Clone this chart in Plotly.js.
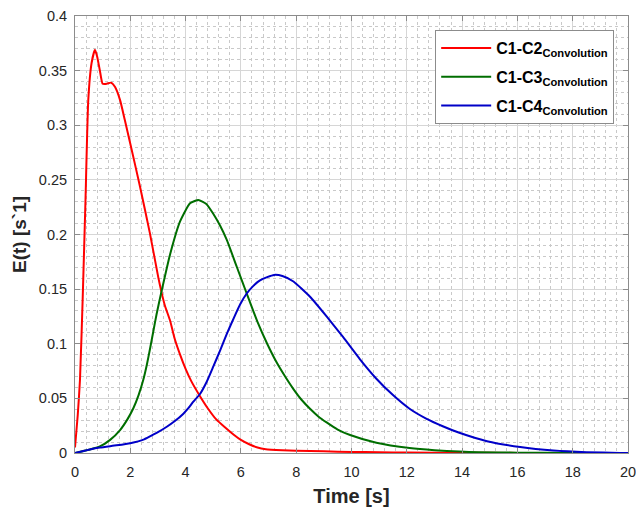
<!DOCTYPE html>
<html>
<head>
<meta charset="utf-8">
<script src="https://cdn.plot.ly/plotly-3.0.1.min.js"></script>
<style>html,body{margin:0;padding:0;background:#fff;}#chart{width:636px;height:511px;}</style>
</head>
<body>
<div id="chart"></div>
<script>
// Time axis values [s] and E(t) values
var redX = [0, 0.1, 0.18, 0.28, 0.38, 0.48, 0.6, 0.72, 0.8, 0.9, 1.0, 1.15, 1.3, 1.45, 1.63, 1.8, 2.0, 2.35, 2.71, 3.01, 3.13, 3.25, 3.44, 3.6, 3.8, 4.0, 4.2, 4.52, 4.8, 5.1, 5.4, 5.73, 6.0, 6.3, 6.6, 6.9, 7.5, 8, 9, 10, 11, 12, 14, 16, 18, 20];
var redY = [0.005, 0.035, 0.067, 0.143, 0.232, 0.323, 0.357, 0.369, 0.363, 0.35, 0.338, 0.338, 0.339, 0.335, 0.323, 0.305, 0.283, 0.244, 0.201, 0.161, 0.147, 0.135, 0.121, 0.105, 0.09, 0.077, 0.066, 0.052, 0.041, 0.031, 0.024, 0.017, 0.012, 0.008, 0.005, 0.0035, 0.0025, 0.002, 0.0015, 0.001, 0.0007, 0.0004, 0.0002, 0.0001, 0, 0];

var greenX = [0, 0.5, 0.9, 1.27, 1.63, 1.9, 2.11, 2.3, 2.47, 2.6, 2.71, 2.83, 2.95, 3.13, 3.44, 3.8, 4.16, 4.46, 4.75, 5.0, 5.25, 5.49, 5.85, 6.21, 6.6, 6.95, 7.29, 7.6, 7.9, 8.2, 8.5, 8.8, 9.1, 9.5, 9.95, 10.9, 12.1, 13.0, 13.9, 14.6, 16, 18, 20];
var greenY = [0, 0.003, 0.006, 0.012, 0.021, 0.031, 0.041, 0.053, 0.067, 0.081, 0.095, 0.111, 0.127, 0.148, 0.182, 0.212, 0.2285, 0.2316, 0.228, 0.219, 0.208, 0.195, 0.1705, 0.146, 0.12, 0.1, 0.083, 0.07, 0.0585, 0.0485, 0.0405, 0.0335, 0.028, 0.0215, 0.0165, 0.0094, 0.0045, 0.0025, 0.0013, 0.0008, 0.0003, 0, 0];

var blueX = [0, 0.5, 0.9, 1.5, 2.0, 2.5, 2.71, 3.0, 3.32, 3.6, 3.92, 4.1, 4.28, 4.52, 4.76, 5.0, 5.25, 5.49, 5.75, 5.97, 6.21, 6.45, 6.69, 6.95, 7.2, 7.5, 7.9, 8.5, 9.1, 9.7, 10.3, 10.9, 11.5, 12.1, 12.7, 13.3, 13.9, 14.9, 16.1, 17.3, 18.5, 19.7, 20];
var blueY = [0, 0.003, 0.005, 0.007, 0.009, 0.0125, 0.0152, 0.019, 0.024, 0.029, 0.036, 0.041, 0.047, 0.054, 0.065, 0.079, 0.094, 0.109, 0.124, 0.136, 0.146, 0.153, 0.158, 0.161, 0.163, 0.162, 0.157, 0.143, 0.125, 0.106, 0.086, 0.068, 0.053, 0.0405, 0.0315, 0.0245, 0.0185, 0.0108, 0.0054, 0.0022, 0.0007, 0.0001, 0];

var seriesNames = ['<b>C1-C2<sub>Convolution</sub></b>', '<b>C1-C3<sub>Convolution</sub></b>', '<b>C1-C4<sub>Convolution</sub></b>'];
var xTickVals = [0, 2, 4, 6, 8, 10, 12, 14, 16, 18, 20];
var yTickVals = [0, 0.05, 0.1, 0.15, 0.2, 0.25, 0.3, 0.35, 0.4];
var yTickText = ['0', '0.05', '0.1', '0.15', '0.2', '0.25', '0.3', '0.35', '0.4'];

var lineColors = ['rgb(255,0,0)', 'rgb(0,110,0)', 'rgb(0,0,200)'];
var xs = [redX, greenX, blueX];
var ys = [redY, greenY, blueY];

var traces = xs.map(function (x, i) {
  return {x: x, y: ys[i], name: seriesNames[i], legendgroup: 'g' + i, mode: 'lines',
          line: {color: lineColors[i], width: 2, shape: 'spline', smoothing: 0.5}};
});

var fontFam = 'Liberation Sans, Arial, sans-serif';
var axisCommon = {
  showline: true, linecolor: '#8c8c8c', linewidth: 1, mirror: 'ticks',
  ticks: 'inside', ticklen: 5, tickcolor: '#8c8c8c', tickwidth: 1,
  showgrid: true, gridcolor: '#d6d6d6', gridwidth: 1,
  zeroline: false, ticklabeloverflow: 'allow',
  tickfont: {family: fontFam, size: 14.5, color: '#262626'}
};

var layout = {
  width: 636, height: 511,
  margin: {l: 75, r: 8, t: 16, b: 58},
  paper_bgcolor: '#fff', plot_bgcolor: '#fff',
  showlegend: true,
  xaxis: Object.assign({}, axisCommon, {
    range: [0, 20], tickvals: xTickVals, ticklabelstandoff: 6,
    minor: {dtick: 0.4, showgrid: true, gridcolor: '#c9c9c9', griddash: 'dot', gridwidth: 1, ticks: ''},
    title: {text: '<b>Time [s]</b>', font: {family: fontFam, size: 20, color: '#262626'}, standoff: 9}
  }),
  yaxis: Object.assign({}, axisCommon, {
    range: [0, 0.4], tickvals: yTickVals, ticktext: yTickText, ticklabelstandoff: 4,
    minor: {dtick: 0.01, showgrid: true, gridcolor: '#c9c9c9', griddash: 'dot', gridwidth: 1, ticks: ''},
    title: {text: '<b>E(t) [s`1]</b>', font: {family: fontFam, size: 19, color: '#262626'}, standoff: 7}
  }),
  legend: {
    x: 0.975, y: 0.968, xanchor: 'right', yanchor: 'top',
    bgcolor: '#fff', bordercolor: '#8c8c8c', borderwidth: 1,
    font: {family: fontFam, size: 16, color: '#000'},
    tracegroupgap: 5, itemwidth: 50
  }
};

Plotly.newPlot('chart', traces, layout, {staticPlot: true, displayModeBar: false});
</script>
</body>
</html>
